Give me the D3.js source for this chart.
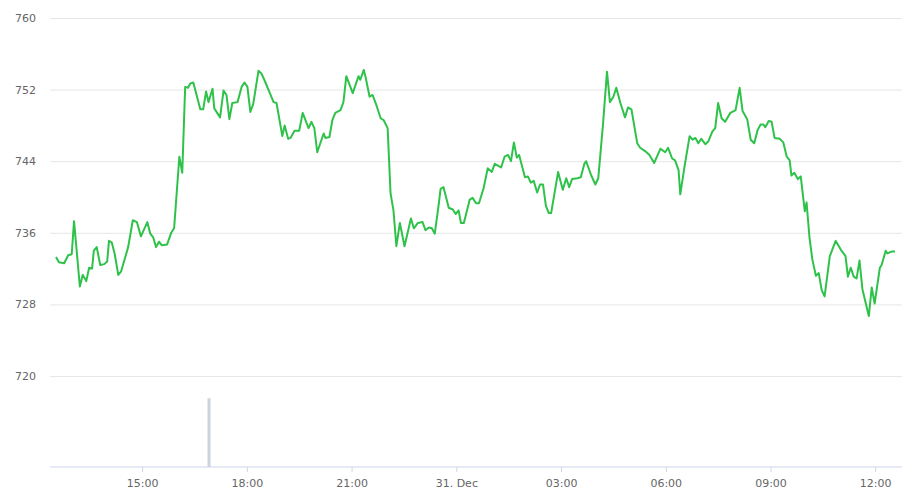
<!DOCTYPE html>
<html>
<head>
<meta charset="utf-8">
<script src="https://cdn.jsdelivr.net/npm/d3@7"></script>
<style>
  body { margin: 0; background: #fff; }
  text { font-family: "Lucida Grande", "DejaVu Sans", sans-serif; }
</style>
</head>
<body>
<svg id="chart" width="902" height="504"></svg>
<script>
// minutes after 30 Dec 12:00, and price
var priceMinutes = [32,37,46,53,59,63,73,78,84,89,94,97,102,108,115,120,123,128,133,139,144,156,159,164,171,178,189,194,199,204,209,214,223,230,235,244,249,254,259,263,268,280,285,290,294,301,304,314,320,325,330,335,344,351,356,361,366,371,380,385,390,399,406,411,421,425,431,435,442,450,456,466,471,476,481,492,495,502,507,512,521,526,531,542,552,555,561,564,571,576,583,590,595,602,607,612,617,623,631,642,647,654,662,667,673,678,683,690,693,698,707,714,719,724,728,733,743,748,754,759,767,774,781,786,797,803,809,814,819,824,828,838,843,848,853,859,864,869,874,879,883,895,903,909,914,919,928,934,940,943,952,959,964,972,979,984,990,995,1002,1010,1015,1021,1031,1036,1045,1052,1060,1071,1079,1084,1091,1096,1102,1105,1112,1121,1126,1131,1136,1141,1148,1153,1160,1165,1170,1176,1182,1191,1200,1207,1212,1220,1226,1232,1238,1243,1248,1251,1257,1262,1267,1276,1282,1288,1293,1296,1301,1307,1312,1319,1322,1327,1332,1338,1343,1348,1353,1362,1372,1381,1389,1393,1398,1403,1408,1413,1418,1429,1434,1439,1448,1451,1458,1461,1468,1474];
var prices = [733.3,732.7,732.6,733.5,733.6,737.3,730.0,731.3,730.6,732.1,732.0,734.0,734.4,732.4,732.5,732.8,735.1,734.9,733.6,731.3,731.7,734.4,735.5,737.4,737.2,735.6,737.2,735.9,735.5,734.4,735.0,734.6,734.7,736.0,736.5,744.5,742.7,752.3,752.2,752.7,752.8,749.8,749.8,751.8,750.6,752.1,749.9,748.9,751.9,751.4,748.7,750.5,750.6,752.3,752.8,752.3,749.5,750.4,754.1,753.8,753.1,751.7,750.6,750.5,746.8,748.0,746.5,746.6,747.4,747.4,749.4,747.7,748.4,747.7,745.0,747.1,746.6,746.7,748.6,749.4,749.7,750.6,753.5,751.6,753.5,753.1,754.2,753.4,751.2,751.4,750.2,748.8,748.6,747.7,740.4,738.5,734.5,737.1,734.5,737.6,736.5,737.1,737.2,736.3,736.6,736.5,735.9,739.3,740.9,741.1,738.8,738.6,738.1,738.5,737.1,737.1,739.7,739.9,739.3,739.3,741.0,743.2,742.8,743.7,743.3,744.5,744.7,744.0,746.1,744.4,744.7,742.2,742.3,741.6,741.8,740.5,741.4,741.4,739.0,738.2,738.2,742.8,740.8,742.1,741.1,742.0,742.1,742.2,743.7,744.0,742.4,741.4,742.1,748.0,754.0,750.6,751.2,752.2,750.5,748.9,750.0,749.8,746.0,745.5,745.1,744.7,743.8,745.4,745.0,745.5,744.3,744.1,743.0,740.3,743.3,746.8,746.4,746.6,746.0,746.5,745.9,746.2,747.3,747.7,750.5,748.8,748.4,749.4,749.7,752.2,749.6,748.7,746.4,746.0,747.5,748.1,748.1,747.8,748.5,748.4,746.6,746.5,746.1,744.5,744.1,742.4,742.7,742.0,742.3,738.4,739.4,735.5,733.0,731.2,731.5,729.6,728.9,733.4,735.1,734.1,733.4,731.1,732.1,731.1,730.9,732.9,729.7,726.7,729.9,728.1,732.1,732.4,734.0,733.7,733.9,733.9];
var volumeMinutes = [295];
var volumes = [79];
var yTicks = [720, 728, 736, 744, 752, 760];
var xTickMinutes = [180, 360, 540, 720, 900, 1080, 1260, 1440];

var base = new Date(2016, 11, 30, 12, 0);
function toDate(m) { return new Date(base.getTime() + m * 60000); }

var data = priceMinutes.map(function(m, i) { return {t: toDate(m), p: prices[i]}; });

var svg = d3.select("#chart");

var x = d3.scaleTime()
    .domain(d3.extent(data, function(d) { return d.t; }))
    .range([56, 895]);
var y = d3.scaleLinear().domain([720, 760]).range([376, 18]);
var yVol = d3.scaleLinear().domain([0, 100]).range([467, 380]);

// grid + y labels
svg.append("g").selectAll("line").data(yTicks).join("line")
    .attr("x1", 50).attr("x2", 902)
    .attr("y1", function(d) { return y(d) + 0.5; })
    .attr("y2", function(d) { return y(d) + 0.5; })
    .attr("stroke", "#e6e6e6");
svg.append("g").selectAll("text").data(yTicks).join("text")
    .attr("x", 15).attr("y", function(d) { return y(d) + 4; })
    .attr("fill", "#666").attr("font-size", 11)
    .text(function(d) { return d; });

// volume
svg.append("g").selectAll("rect").data(volumeMinutes).join("rect")
    .attr("x", function(d) { return x(toDate(d)) - 1.5; })
    .attr("width", 3)
    .attr("y", function(d, i) { return yVol(volumes[i]); })
    .attr("height", function(d, i) { return yVol(0) - yVol(volumes[i]); })
    .attr("fill", "#cbd3e0");

// x axis
var fmt = d3.timeFormat("%H:%M");
var xAxis = d3.axisBottom(x)
    .tickValues(xTickMinutes.map(toDate))
    .tickSize(5)
    .tickFormat(function(d) { return d.getHours() === 0 ? d.getDate() + ". Dec" : fmt(d); });
var gx = svg.append("g").attr("transform", "translate(0,467)").call(xAxis);
gx.select(".domain").remove();
gx.append("line").attr("x1", 50).attr("x2", 902).attr("stroke", "#ccd6eb");
gx.selectAll(".tick line").attr("stroke", "#ccd6eb");
gx.selectAll(".tick text").attr("fill", "#666").attr("font-size", 11)
    .attr("font-family", "'Lucida Grande', 'DejaVu Sans', sans-serif").attr("dy", "1.1em");

// price line
svg.append("path").datum(data)
    .attr("fill", "none")
    .attr("stroke", "#2fc24a")
    .attr("stroke-width", 2)
    .attr("stroke-linejoin", "round")
    .attr("d", d3.line().x(function(d) { return x(d.t); }).y(function(d) { return y(d.p); }));
</script>
</body>
</html>
